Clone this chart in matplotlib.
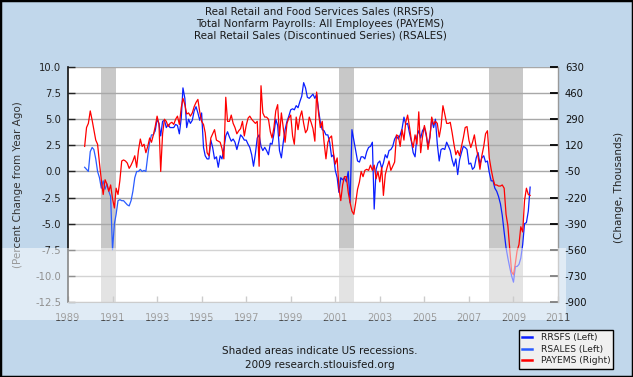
import numpy as np
import pandas as pd
import matplotlib
matplotlib.use("Agg")
import matplotlib.pyplot as plt
from matplotlib.patches import Rectangle
from matplotlib.lines import Line2D

# ---------------- data ----------------
titles = ["Real Retail and Food Services Sales (RRSFS)",
          "Total Nonfarm Payrolls: All Employees (PAYEMS)",
          "Real Retail Sales (Discontinued Series) (RSALES)"]
footer = ["Shaded areas indicate US recessions.", "2009 research.stlouisfed.org"]
left_label = "(Percent Change from Year Ago)"
right_label = "(Change, Thousands)"
legend_labels = ["RRSFS (Left)", "RSALES (Left)", "PAYEMS (Right)"]

recessions = [("1990-07-01", "1991-03-01"),
              ("2001-03-01", "2001-11-01"),
              ("2007-12-01", "2009-06-01")]

rsales_start = "1989-10-01"
rsales = [0.4, 0.2, 0.0, 1.9, 2.3, 2.1, 1.2, 0.0, -0.6, -1.6,
          -0.9, -1.7, -1.2, -1.9, -2.4, -7.5, -5.0, -4.1, -2.8, -2.7,
          -2.8, -2.8, -3.0, -3.2, -3.3, -2.8, -1.9, -0.6, 0.0, 0.0,
          0.2, 0.0, 0.1, 0.0, 1.5, 2.8, 3.5, 3.5, 3.9]

rrsfs_start = "1992-12-01"
rrsfs = [3.9, 5.0, 4.6, 3.4, 4.8, 4.9, 4.2, 4.5, 4.2, 4.2,
         4.2, 4.5, 4.4, 3.6, 5.1, 8.0, 7.0, 4.2, 5.0, 4.6,
         4.9, 5.8, 6.2, 5.6, 4.9, 5.6, 2.3, 1.5, 1.2, 1.2,
         3.0, 2.3, 1.2, 1.4, 0.4, 1.5, 1.2, 2.2, 3.4, 3.8,
         3.3, 2.9, 3.1, 2.8, 2.1, 2.8, 3.5, 3.3, 3.0, 3.0,
         2.6, 2.3, 1.6, 0.5, 1.7, 3.2, 3.5, 2.4, 2.0, 2.3,
         2.0, 1.6, 2.7, 2.6, 3.6, 5.0, 4.4, 2.0, 1.3, 2.8,
         4.0, 4.8, 5.3, 5.9, 6.0, 5.9, 6.3, 6.1, 6.7, 7.2,
         8.5, 8.0, 7.1, 7.0, 7.2, 7.4, 7.0, 7.4, 5.9, 4.7,
         4.0, 3.9, 3.5, 3.5, 2.8, 1.4, 1.6, 0.1, -0.6, -2.0,
         -0.6, -0.8, -0.6, -1.0, 0.0, -3.0, 4.0, 3.0, 2.0, 1.0,
         0.9, 1.4, 1.4, 1.2, 1.9, 2.3, 2.4, 2.8, -3.6, 0.2,
         0.8, 1.0, 0.3, 0.8, 1.6, 1.3, 2.0, 2.1, 2.4, 3.1,
         3.4, 3.1, 3.5, 4.1, 5.2, 4.5, 4.6, 3.7, 2.9, 1.8,
         1.4, 3.4, 3.9, 3.2, 3.9, 4.2, 3.4, 2.5, 3.3, 5.0,
         4.2, 5.0, 2.6, 1.0, 2.1, 2.2, 2.1, 2.8, 2.4, 2.0,
         1.1, 0.5, 1.2, -0.3, 1.1, 1.8, 2.4, 2.3, 2.1, 0.7,
         0.8, 0.2, 0.4, 1.3, 1.8, 0.7, 1.3, 1.5, 0.9, 1.0,
         -0.1, -0.9, -0.9, -1.6, -1.9, -2.4, -3.1, -4.2, -5.8, -7.3,
         -8.3, -9.2, -10.0, -10.6, -9.1, -9.1, -8.9, -8.3, -7.0, -5.0,
         -4.9, -3.8, -1.5]

payems_start = "1989-10-01"
payems = [113, 236, 263, 344, 283, 222, 154, 127, 4, -104,
          -200, -104, -132, -179, -138, -227, -288, -159, -200, -111,
          18, 25, 18, 4, -30, -9, 18, 52, -23, 86,
          161, 113, 127, 72, 113, 168, 140, 188, 242, 310,
          256, -50, 195, 290, 276, 242, 263, 270, 256, 290,
          310, 256, 365, 426, 385, 324, 331, 310, 331, 372,
          399, 419, 338, 276, 256, 202, 72, 52, 168, 195,
          222, 154, 147, 140, 100, 32, 433, 276, 276, 317,
          263, 236, 195, 215, 229, 276, 181, 249, 297, 310,
          290, 276, 263, 276, -16, 508, 331, 304, 304, 290,
          208, 168, 236, 344, 385, 181, 331, 236, 140, 263,
          297, 317, 181, 127, 304, 222, 304, 344, 263, 202,
          222, 304, 270, 229, 147, 467, 331, 236, 276, 140,
          32, 140, 168, 181, 72, -2, 38, -159, -240, -138,
          -84, -84, -186, -254, -308, -329, -254, -166, -118, -50,
          -84, -43, -36, -43, -9, -43, -9, -98, -50, -118,
          -23, -206, -70, -23, 18, -43, -16, 11, 188, 181,
          113, 222, 154, 270, 317, 242, 154, 106, 188, 127,
          338, 72, 174, 249, 195, 93, 168, 304, 256, 276,
          263, 174, 242, 378, 324, 263, 263, 270, 202, 127,
          59, 86, 52, 113, 168, 236, 242, 154, 106, 140,
          188, 106, 45, -36, 52, 113, 195, 215, 38, -36,
          -98, -138, -138, -145, -145, -138, -159, -329, -404, -560,
          -703, -723, -648, -567, -526, -410, -444, -240, -159, -200,
          -206]

left_ticks = [-12.5, -10.0, -7.5, -5.0, -2.5, 0.0, 2.5, 5.0, 7.5, 10.0]
right_ticks = [-900, -730, -560, -390, -220, -50, 120, 290, 460, 630]
x_tick_years = list(range(1989, 2012, 2))

# ---------------- figure ----------------
W, H = 633, 377
BG = "#c1d7eb"
fig = plt.figure(figsize=(W / 100, H / 100), dpi=100)
fig.patch.set_facecolor(BG)

ax = fig.add_axes([68 / W, 1 - 302 / H, (558 - 68) / W, (302 - 67) / H])
ax.set_facecolor("white")
ax2 = ax.twinx()

for a, b in recessions:
    ax.axvspan(pd.Timestamp(a), pd.Timestamp(b), color="#c8c8c8", lw=0, zorder=0)

x_rs = pd.date_range(rsales_start, periods=len(rsales), freq="MS")
x_rr = pd.date_range(rrsfs_start, periods=len(rrsfs), freq="MS")
x_pe = pd.date_range(payems_start, periods=len(payems), freq="MS")

ax.plot(x_rr, rrsfs, color="#0a1eff", lw=0.9, zorder=3)
ax.plot(x_rs, rsales, color="#2a5cff", lw=0.9, zorder=3)
ax2.plot(x_pe, payems, color="#ff0000", lw=0.9, zorder=3)

ax.set_xlim(pd.Timestamp("1989-01-01"), pd.Timestamp("2011-01-01"))
ax.set_ylim(-12.5, 10)
ax2.set_ylim(-900, 630)
ax.set_yticks(left_ticks)
ax.set_yticklabels([f"{v:.1f}" for v in left_ticks])
ax2.set_yticks(right_ticks)
ax2.set_yticklabels([str(v) for v in right_ticks])
ax.set_xticks([pd.Timestamp(f"{y}-01-01") for y in x_tick_years])
ax.set_xticklabels([str(y) for y in x_tick_years])

ax.set_axisbelow(True)
ax.yaxis.grid(True, color="#a8a8a8", lw=1.0, zorder=1)
ax.xaxis.grid(False)

ax.tick_params(axis="y", direction="in", length=5, width=1, color="#222222",
               labelsize=7.2, labelcolor="#222222", pad=5)
ax.tick_params(axis="x", direction="in", length=4, width=1, color="#999999",
               labelsize=7.2, labelcolor="#444444", pad=8)
ax2.tick_params(axis="y", direction="in", length=6, width=1.3, color="#000000",
                labelsize=7.2, labelcolor="#111111", pad=5)

for s in ["top", "right"]:
    ax.spines[s].set_visible(False)
ax.spines["left"].set_color("#111111")
ax.spines["left"].set_linewidth(1.2)
ax.spines["bottom"].set_color("#999999")
for s in ["top", "left", "bottom"]:
    ax2.spines[s].set_visible(False)
ax2.spines["right"].set_color("#999999")
ax2.spines["right"].set_linewidth(1.0)

# titles / labels
for i, t in enumerate(titles):
    fig.text(320 / W, 1 - (12 + 12 * i) / H, t, ha="center", va="center",
             fontsize=7.5, color="#1a1a1a")
fig.text(320 / W, 1 - 351.5 / H, footer[0], ha="center", va="center",
         fontsize=7.5, color="#1a1a1a")
fig.text(320 / W, 1 - 364.5 / H, footer[1], ha="center", va="center",
         fontsize=7.5, color="#1a1a1a")
fig.text(18 / W, 1 - 185 / H, left_label, rotation=90, ha="center", va="center",
         fontsize=7.5, color="#333333")
fig.text(619 / W, 1 - 187 / H, right_label, rotation=90, ha="center", va="center",
         fontsize=7.5, color="#222222")

handles = [Line2D([], [], color="#0a1eff", lw=1.8),
           Line2D([], [], color="#2a5cff", lw=1.8),
           Line2D([], [], color="#ff0000", lw=1.8)]
leg = fig.legend(handles, legend_labels, loc="upper left",
                 bbox_to_anchor=(519 / W, 1 - 330 / H),
                 fontsize=6.6, frameon=True, fancybox=False, framealpha=1,
                 facecolor="#f0f0f0", edgecolor="#000000",
                 handlelength=1.1, handletextpad=0.9, borderpad=0.35,
                 labelspacing=0.28, borderaxespad=0)
leg.get_frame().set_linewidth(1.0)
for txt in leg.get_texts():
    txt.set_color("#222222")

# lighter overlay band (watermark strip of the source image)
fig.patches.append(Rectangle((0, 1 - 320 / H), 566 / W, 72 / H,
                             transform=fig.transFigure, facecolor="white",
                             alpha=0.5, edgecolor="none", zorder=10))
# outer border
fig.patches.append(Rectangle((0, 0), 1, 1, transform=fig.transFigure,
                             fill=False, edgecolor="#000000", lw=2.5, zorder=11))

fig.savefig("out.png", dpi=100, facecolor=BG)
